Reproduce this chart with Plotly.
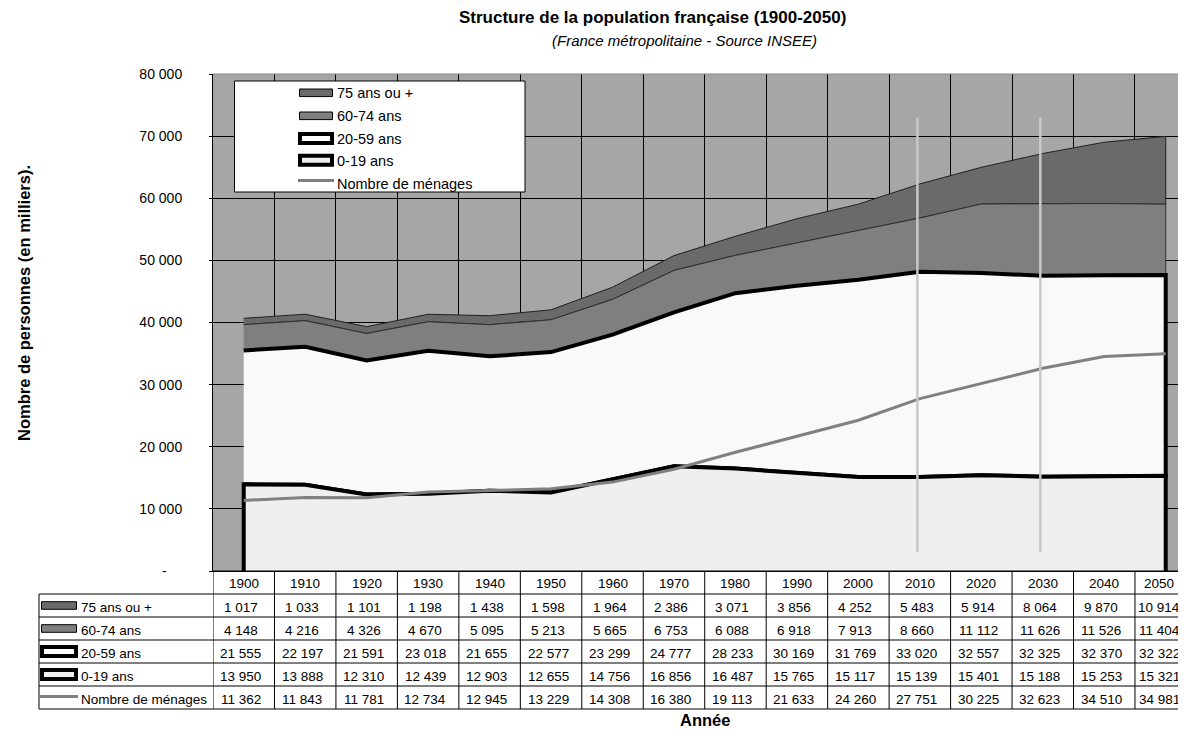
import plotly.graph_objects as go

# ---------------- data ----------------
years = ["1900", "1910", "1920", "1930", "1940", "1950", "1960", "1970",
         "1980", "1990", "2000", "2010", "2020", "2030", "2040", "2050"]
age_75_plus = [1017, 1033, 1101, 1198, 1438, 1598, 1964, 2386, 3071, 3856,
               4252, 5483, 5914, 8064, 9870, 10914]
age_60_74 = [4148, 4216, 4326, 4670, 5095, 5213, 5665, 6753, 6088, 6918,
             7913, 8660, 11112, 11626, 11526, 11404]
age_20_59 = [21555, 22197, 21591, 23018, 21655, 22577, 23299, 24777, 28233,
             30169, 31769, 33020, 32557, 32325, 32370, 32322]
age_0_19 = [13950, 13888, 12310, 12439, 12903, 12655, 14756, 16856, 16487,
            15765, 15117, 15139, 15401, 15188, 15253, 15321]
menages = [11362, 11843, 11781, 12734, 12945, 13229, 14308, 16380, 19113,
           21633, 24260, 27751, 30225, 32623, 34510, 34981]
series_names = ["75 ans ou +", "60-74 ans", "20-59 ans", "0-19 ans", "Nombre de ménages"]
y_tick_vals = [0, 10000, 20000, 30000, 40000, 50000, 60000, 70000, 80000]
marker_years = ["2010", "2030"]

# ---------------- geometry / styles ----------------
# the page adds an 8px body margin, so the figure is drawn 8px smaller
PAGE_OFF = 8
W, H = 1186 - PAGE_OFF, 731 - PAGE_OFF
RL, RT, RB = 213, 74, 571          # plot area in window pixels
PW, PH = 1186 - RL, RB - RT
FONT = "Liberation Sans, Arial, sans-serif"
C_BG = "#A6A6A6"
C_75 = "#6A6A6A"
C_60 = "#7F7F7F"
C_20 = "#F9F9F9"
C_0 = "#EFEFEF"
C_MEN = "#808080"


def px_x(x):
    return (x - RL) / PW


def px_y(y):
    return (RB - y) / PH


n = len(years)
idx = list(range(n))
c1 = age_0_19
c2 = [a + b for a, b in zip(c1, age_20_59)]
c3 = [a + b for a, b in zip(c2, age_60_74)]
c4 = [a + b for a, b in zip(c3, age_75_plus)]

fig = go.Figure()

fig.add_trace(go.Scatter(x=idx + idx[::-1], y=c4 + c3[::-1], fill="toself",
                         fillcolor=C_75, mode="lines",
                         line=dict(color="#202020", width=1), name=series_names[0],
                         showlegend=False, hoverinfo="skip"))
fig.add_trace(go.Scatter(x=idx + idx[::-1], y=c3 + c2[::-1], fill="toself",
                         fillcolor=C_60, mode="lines",
                         line=dict(color="#303030", width=1), name=series_names[1],
                         showlegend=False, hoverinfo="skip"))
fig.add_trace(go.Scatter(x=idx + idx[::-1], y=c2 + c1[::-1], fill="toself",
                         fillcolor=C_20, mode="lines",
                         line=dict(color="black", width=4), name=series_names[2],
                         showlegend=False, hoverinfo="skip"))
fig.add_trace(go.Scatter(x=[idx[0]] + idx + [idx[-1]], y=[0] + c1 + [0], fill="tozeroy",
                         fillcolor=C_0, mode="lines",
                         line=dict(color="black", width=4), name=series_names[3],
                         showlegend=False, hoverinfo="skip"))
fig.add_trace(go.Scatter(x=idx, y=menages, mode="lines",
                         line=dict(color=C_MEN, width=3), name=series_names[4],
                         showlegend=False, hoverinfo="skip"))

shapes = []
annotations = []

for yr in marker_years:
    xi = years.index(yr) - 0.04
    shapes.append(dict(type="line", xref="x", yref="y", x0=xi, x1=xi, y0=3000, y1=73000,
                       line=dict(color="#C8C8C8", width=2.5), layer="above"))

shapes.append(dict(type="line", xref="paper", yref="paper", x0=0, x1=1, y0=1, y1=1,
                   line=dict(color="#8A8A8A", width=1), layer="above"))

# ---------------- legend inside plot ----------------
shapes.append(dict(type="rect", xref="paper", yref="paper",
                   x0=px_x(234.5), x1=px_x(525), y0=px_y(81), y1=px_y(192),
                   fillcolor="white", line=dict(color="black", width=1), layer="above"))
leg_rows = [93.3, 116.3, 139, 160.7, 184]


def legend_key(i, xa, xb, yc):
    if i in (0, 1):
        h = 3.8
        return dict(type="rect", xref="paper", yref="paper", x0=px_x(xa + 1.5), x1=px_x(xb - 1.5),
                    y0=px_y(yc + h), y1=px_y(yc - h), fillcolor=C_75 if i == 0 else C_60,
                    line=dict(color="black", width=1), layer="above")
    if i in (2, 3):
        h = 4.5
        return dict(type="rect", xref="paper", yref="paper", x0=px_x(xa + 2), x1=px_x(xb - 2),
                    y0=px_y(yc + h), y1=px_y(yc - h),
                    fillcolor="white" if i == 2 else C_0,
                    line=dict(color="black", width=4), layer="above")
    return dict(type="line", xref="paper", yref="paper", x0=px_x(xa), x1=px_x(xb),
                y0=px_y(yc), y1=px_y(yc), line=dict(color=C_MEN, width=3), layer="above")


for i, name in enumerate(series_names):
    yc = leg_rows[i]
    key_y = yc - 0.5 if i < 4 else yc - 3.5
    shapes.append(legend_key(i, 298, 334, key_y))
    annotations.append(dict(text=name, xref="paper", yref="paper", x=px_x(335), y=px_y(yc),
                            xanchor="left", yanchor="middle", showarrow=False,
                            font=dict(family=FONT, size=14.5, color="black")))

# ---------------- data table ----------------
row_lines = [571, 594, 617, 640, 663, 686, 709]
tbl_left = 39
line_k = dict(color="black", width=1)
for k, yl in enumerate(row_lines):
    x0 = px_x(RL) if k == 0 else px_x(tbl_left)
    shapes.append(dict(type="line", xref="paper", yref="paper", x0=x0, x1=1,
                       y0=px_y(yl), y1=px_y(yl), line=line_k, layer="above"))
shapes.append(dict(type="line", xref="paper", yref="paper", x0=px_x(tbl_left), x1=px_x(tbl_left),
                   y0=px_y(594), y1=px_y(709), line=line_k, layer="above"))
for i in range(n):
    xb = i - 0.5
    shapes.append(dict(type="line", xref="x", yref="paper", x0=xb, x1=xb,
                       y0=px_y(571), y1=px_y(709), line=line_k, layer="above"))

LAST_COL_CENTER = px_x(1159)   # visible part of the cut last column


def cell_x(i):
    if i == n - 1:
        return dict(xref="paper", x=LAST_COL_CENTER)
    return dict(xref="x", x=i)


for i, yr in enumerate(years):
    annotations.append(dict(text=yr, yref="paper", y=px_y(583.5),
                            xanchor="center", yanchor="middle", showarrow=False,
                            font=dict(family=FONT, size=13.5, color="black"), **cell_x(i)))


def fmt(v):
    return f"{v:,}".replace(",", "\u00a0")


table_series = [age_75_plus, age_60_74, age_20_59, age_0_19, menages]
for r, (name, vals) in enumerate(zip(series_names, table_series)):
    yc = (row_lines[r + 1] + row_lines[r + 2]) / 2 + 1.5
    for i, v in enumerate(vals):
        annotations.append(dict(text=fmt(v), yref="paper", y=px_y(yc),
                                xanchor="center", yanchor="middle", showarrow=False,
                                xshift=0 if i == n - 1 else -3,
                                font=dict(family=FONT, size=13.5, color="black"), **cell_x(i)))
    annotations.append(dict(text=name, xref="paper", yref="paper", x=px_x(78.5), y=px_y(yc),
                            xanchor="left", yanchor="middle", showarrow=False,
                            font=dict(family=FONT, size=13.5, color="black")))
    key_y = yc - 1.5 if r < 4 else yc - 2.5
    shapes.append(legend_key(r, 40, 78, key_y))

# ---------------- titles ----------------
annotations.append(dict(text="<b>Structure de la population française (1900-2050)</b>",
                        xref="paper", yref="paper", x=px_x(652), y=px_y(17),
                        xanchor="center", yanchor="middle", showarrow=False,
                        font=dict(family=FONT, size=17, color="black")))
annotations.append(dict(text="<i>(France métropolitaine - Source INSEE)</i>",
                        xref="paper", yref="paper", x=px_x(684), y=px_y(40),
                        xanchor="center", yanchor="middle", showarrow=False,
                        font=dict(family=FONT, size=15, color="black")))
annotations.append(dict(text="<b>Nombre de personnes (en milliers).</b>",
                        xref="paper", yref="paper", x=px_x(24), y=px_y(303),
                        xanchor="center", yanchor="middle", textangle=-90, showarrow=False,
                        font=dict(family=FONT, size=16.5, color="black")))
annotations.append(dict(text="<b>Année</b>",
                        xref="paper", yref="paper", x=px_x(705), y=px_y(720),
                        xanchor="center", yanchor="middle", showarrow=False,
                        font=dict(family=FONT, size=16.5, color="black")))

y_tick_text = ["-" + "\u00a0" * 4 if v == 0 else fmt(v) for v in y_tick_vals]

fig.update_layout(
    width=W, height=H,
    margin=dict(l=RL - PAGE_OFF, r=0, t=RT - PAGE_OFF, b=H - (RB - PAGE_OFF), pad=0),
    paper_bgcolor="white", plot_bgcolor=C_BG,
    font=dict(family=FONT, size=14, color="black"),
    showlegend=False,
    shapes=shapes, annotations=annotations,
    xaxis=dict(range=[-0.5, 15.33], tickmode="array",
               tickvals=[i - 0.5 for i in range(n + 1)], showticklabels=False,
               ticks="", showgrid=True, gridcolor="black", gridwidth=1,
               zeroline=False, showline=True, linecolor="black", linewidth=1,
               fixedrange=True),
    yaxis=dict(range=[0, 80000], tickmode="array", tickvals=y_tick_vals,
               ticktext=y_tick_text, ticks="outside", ticklen=3, tickcolor="black",
               ticklabelstandoff=24,
               showgrid=True, gridcolor="black", gridwidth=1, zeroline=False,
               showline=True, linecolor="black", linewidth=1,
               tickfont=dict(family=FONT, size=14, color="black"), fixedrange=True),
)

fig.write_html("out.html")
